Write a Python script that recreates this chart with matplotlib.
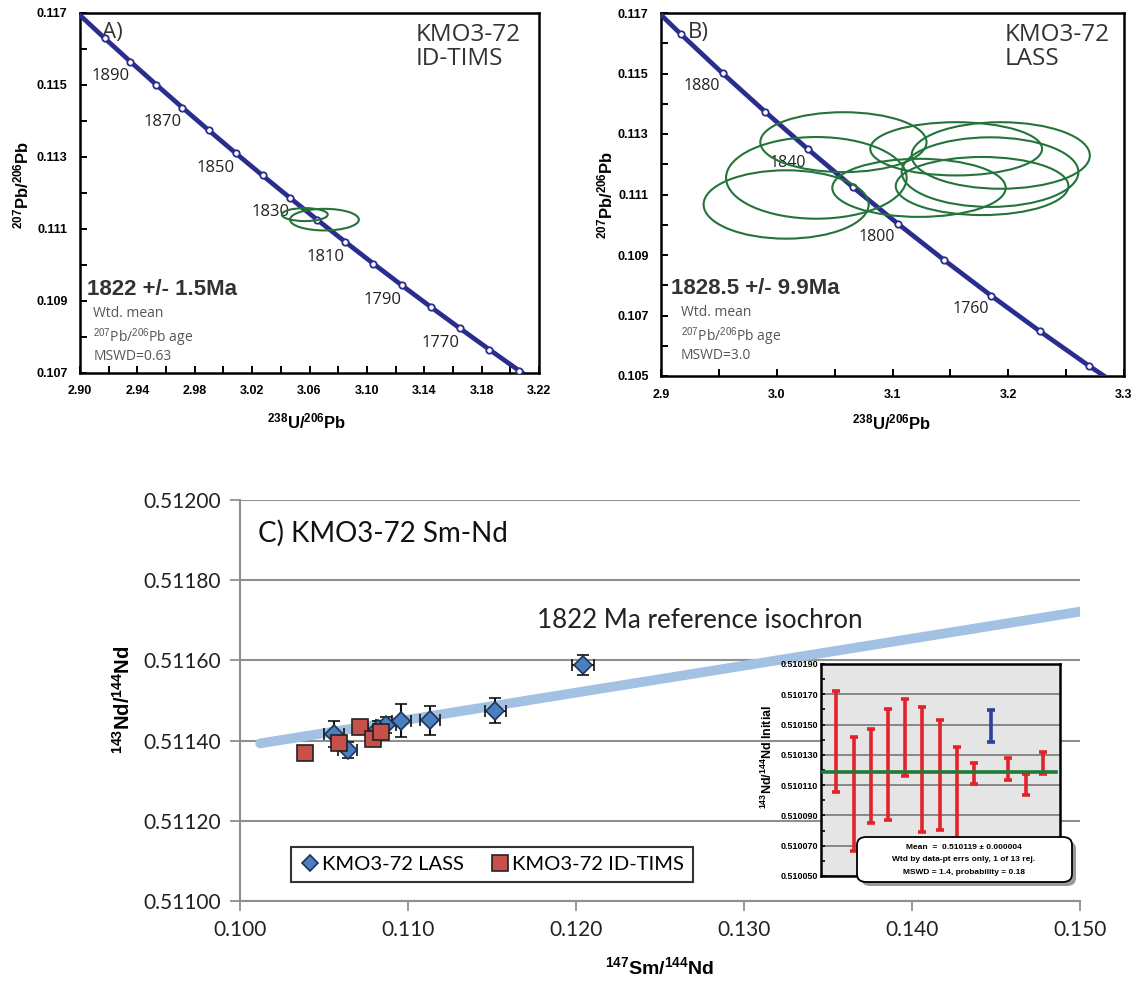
import numpy as np
import matplotlib
matplotlib.use("Agg")
import matplotlib.pyplot as plt
from matplotlib.patches import Ellipse, FancyBboxPatch
from matplotlib.lines import Line2D
from matplotlib.ticker import MultipleLocator, FormatStrFormatter

plt.rcParams['font.family'] = ['Liberation Sans', 'DejaVu Sans']
plt.rcParams['mathtext.fontset'] = 'custom'
plt.rcParams['mathtext.rm'] = 'Liberation Sans'
plt.rcParams['mathtext.it'] = 'Liberation Sans:italic'
plt.rcParams['mathtext.bf'] = 'Liberation Sans:bold'

W, H = 1144, 983

# U-Pb decay constants for the Tera-Wasserburg concordia
LAMBDA_238 = 1.55125e-10
LAMBDA_235 = 9.8485e-10
U238_U235 = 137.88

# ---- panel A: ID-TIMS ----
marker_ages_a = [1900, 1890, 1880, 1870, 1860, 1850, 1840, 1830,
                 1820, 1810, 1800, 1790, 1780, 1770, 1760, 1750]
label_ages_a = [1890, 1870, 1850, 1830, 1810, 1790, 1770]
ell_a_x = [3.0567, 3.0704]
ell_a_y = [0.11140, 0.11126]
ell_a_w = [0.016, 0.024]        # semi-axes
ell_a_h = [0.00018, 0.00030]
xticks_a = [2.90, 2.94, 2.98, 3.02, 3.06, 3.10, 3.14, 3.18, 3.22]
yticks_a = [0.107, 0.109, 0.111, 0.113, 0.115, 0.117]

# ---- panel B: LASS ----
marker_ages_b = [1900, 1880, 1860, 1840, 1820, 1800, 1780, 1760, 1740, 1720]
label_ages_b = [1880, 1840, 1800, 1760]
ell_b_x = [3.0081, 3.0342, 3.0576, 3.1229, 3.1550, 3.1935, 3.1774, 3.1843]
ell_b_y = [0.11067, 0.11155, 0.11273, 0.11122, 0.11251, 0.11229, 0.11128, 0.11174]
ell_b_w = [0.0713, 0.0780, 0.0718, 0.0749, 0.0742, 0.0770, 0.0746, 0.0763]
ell_b_h = [0.00113, 0.00135, 0.00099, 0.00096, 0.00088, 0.00110, 0.00096, 0.00115]
xticks_b = [2.9, 3.0, 3.1, 3.2, 3.3]
yticks_b = [0.105, 0.107, 0.109, 0.111, 0.113, 0.115, 0.117]

# ---- panel C: Sm-Nd ----
lass_x = [0.1204, 0.1152, 0.1113, 0.1096, 0.1087, 0.1082, 0.1064, 0.1056]
lass_y = [0.511589, 0.511474, 0.511451, 0.511450, 0.511440, 0.511430, 0.511377, 0.511416]
lass_xerr = [0.00066, 0.00063, 0.00060, 0.00058, 0.00060, 0.00060, 0.00058, 0.00060]
lass_yerr = [0.000025, 0.000031, 0.000036, 0.000041, 0.000020, 0.000020, 0.000020, 0.000033]
tims_x = [0.10387, 0.10589, 0.10714, 0.10790, 0.10839]
tims_y = [0.511368, 0.511393, 0.511433, 0.511404, 0.511422]
isochron_x = [0.1012, 0.1502]
isochron_y = [0.511393, 0.511723]

# inset: initial 143Nd/144Nd with 2-sigma bars
init_lo = [0.5101056, 0.5100667, 0.5100851, 0.5100871, 0.5101160, 0.5100793, 0.5100802,
           0.5100640, 0.5101107, 0.5101384, 0.5101131, 0.5101033, 0.5101171]
init_hi = [0.5101722, 0.5101416, 0.5101473, 0.5101600, 0.5101671, 0.5101618, 0.5101531,
           0.5101349, 0.5101249, 0.5101596, 0.5101278, 0.5101171, 0.5101318]
init_rejected = [False] * 9 + [True] + [False] * 3
init_mean = 0.510119
init_ticks = [0.510050, 0.510070, 0.510090, 0.510110, 0.510130, 0.510150, 0.510170, 0.510190]


def concordia(ages_ma):
    t = np.asarray(ages_ma, dtype=float) * 1e6
    e8 = np.exp(LAMBDA_238 * t) - 1.0
    e5 = np.exp(LAMBDA_235 * t) - 1.0
    return 1.0 / e8, e5 / e8 / U238_U235


def px_axes(left, top, right, bottom):
    return [left / W, 1 - bottom / H, (right - left) / W, (bottom - top) / H]


fig = plt.figure(figsize=(W / 100, H / 100), dpi=100)

NAVY = '#2b2d8e'
GREEN = '#23733a'
SANS = ['Open Sans', 'DejaVu Sans']


def upb_panel(rect, marker_ages, label_ages, ex, ey, ew, eh, xlim, ylim,
              xticks, yticks, xminor, xfmt, lab_off, lab_size):
    ax = fig.add_axes(rect)
    line_ages = [marker_ages[0] + 20] + marker_ages + [marker_ages[-1] - 40]
    cx, cy = concordia(line_ages)
    ax.plot(cx, cy, color=NAVY, lw=3.4, zorder=3, solid_capstyle='butt')
    mx, my = concordia(marker_ages)
    ax.plot(mx, my, 'o', ms=4.6, mfc='white', mec=NAVY, mew=1.3, zorder=4)
    lx, ly = concordia(label_ages)
    for a, x, y in zip(label_ages, lx, ly):
        ax.annotate(str(a), (x, y), xytext=lab_off, textcoords='offset points',
                    ha='center', va='center', fontsize=lab_size, family=SANS,
                    color='#222222', zorder=2)
    for x, y, w, h in zip(ex, ey, ew, eh):
        ax.add_patch(Ellipse((x, y), 2 * w, 2 * h, fill=False, ec=GREEN,
                             lw=1.5, zorder=5))
    ax.set_xlim(*xlim)
    ax.set_ylim(*ylim)
    ax.set_xticks(xticks)
    ax.set_yticks(yticks)
    ax.xaxis.set_minor_locator(MultipleLocator(xminor))
    ax.yaxis.set_minor_locator(MultipleLocator(0.001))
    ax.xaxis.set_major_formatter(FormatStrFormatter(xfmt))
    ax.yaxis.set_major_formatter(FormatStrFormatter('%.3f'))
    ax.tick_params(which='both', direction='in', width=1.4, top=False, right=False)
    ax.tick_params(which='major', length=5, labelsize=9, pad=9)
    ax.tick_params(which='minor', length=5)
    plt.setp(ax.get_xticklabels() + ax.get_yticklabels(), fontweight='bold')
    for s in ax.spines.values():
        s.set_linewidth(1.8)
    return ax


axA = upb_panel(px_axes(80, 13, 539, 373), marker_ages_a, label_ages_a,
                ell_a_x, ell_a_y, ell_a_w, ell_a_h, (2.90, 3.22), (0.107, 0.117),
                xticks_a, yticks_a, 0.02, '%.2f', (-14, -10.6), 12)
axB = upb_panel(px_axes(661, 13, 1124, 376), marker_ages_b, label_ages_b,
                ell_b_x, ell_b_y, ell_b_w, ell_b_h, (2.9, 3.3), (0.105, 0.117),
                xticks_b, yticks_b, 0.05, '%.1f', (-15, -9.4), 11.5)


def upb_text(ax, tag, tag_x, name, name_x, result, result_x, y0, mswd, small_x):
    ax.text(tag_x, 0.975, tag, transform=ax.transAxes, ha='left', va='top',
            fontsize=16, family=SANS, color='#333333')
    ax.text(name_x, 0.972, name, transform=ax.transAxes, ha='left', va='top',
            fontsize=17.5, family=SANS, color='#333333', linespacing=0.98)
    ax.text(result_x, y0, result, transform=ax.transAxes, ha='left', va='center',
            fontsize=16, fontweight='bold', color='#333333')
    ax.text(small_x, y0 - 0.066, 'Wtd. mean', transform=ax.transAxes,
            ha='left', va='center', fontsize=10, family=SANS, color='#555555')
    ax.text(small_x, y0 - 0.135, r'$^{207}$Pb/$^{206}$Pb age', transform=ax.transAxes,
            ha='left', va='center', fontsize=10, family=SANS, color='#555555')
    ax.text(small_x, y0 - 0.185, mswd, transform=ax.transAxes,
            ha='left', va='center', fontsize=10, family=SANS, color='#555555')


upb_text(axA, 'A)', 0.047, 'KMO3-72\nID-TIMS', 0.731, '1822 +/- 1.5Ma', 0.0155,
         0.232, 'MSWD=0.63', 0.029)
upb_text(axB, 'B)', 0.059, 'KMO3-72\nLASS', 0.742, '1828.5 +/- 9.9Ma', 0.0225,
         0.242, 'MSWD=3.0', 0.0425)

pb_label = r'$^{\mathbf{207}}$Pb/$^{\mathbf{206}}$Pb'
u_label = r'$^{\mathbf{238}}$U/$^{\mathbf{206}}$Pb'
fig.text(21 / W, 1 - 185 / H, pb_label, rotation=90, ha='center', va='center',
         fontsize=12, fontweight='bold')
fig.text(605 / W, 1 - 195 / H, pb_label, rotation=90, ha='center', va='center',
         fontsize=12, fontweight='bold')
fig.text(307 / W, 1 - 421 / H, u_label, ha='center', va='center',
         fontsize=12, fontweight='bold')
fig.text(892 / W, 1 - 422 / H, u_label, ha='center', va='center',
         fontsize=12, fontweight='bold')

# ---- panel C ----
CAL = ['Lato', 'DejaVu Sans']
GRID = '#8f8f8f'
axC = fig.add_axes(px_axes(240, 500, 1080, 901))
axC.set_xlim(0.100, 0.150)
axC.set_ylim(0.51100, 0.51200)
axC.yaxis.set_major_locator(MultipleLocator(0.0002))
axC.xaxis.set_major_locator(MultipleLocator(0.010))
axC.yaxis.set_major_formatter(FormatStrFormatter('%.5f'))
axC.xaxis.set_major_formatter(FormatStrFormatter('%.3f'))
axC.grid(axis='y', color=GRID, lw=1.5, zorder=0)
axC.set_axisbelow(True)
for s in ('top', 'right'):
    axC.spines[s].set_visible(False)
for s in ('left', 'bottom'):
    axC.spines[s].set_color(GRID)
    axC.spines[s].set_linewidth(1.5)
axC.tick_params(direction='out', length=7, width=1.3, color=GRID,
                labelsize=15, labelcolor='#222222', pad=7)
plt.setp(axC.get_xticklabels() + axC.get_yticklabels(), family=CAL)

axC.plot(isochron_x, isochron_y, color='#a3c1e2', lw=7, solid_capstyle='round', zorder=2)
axC.errorbar(lass_x, lass_y, xerr=lass_xerr, yerr=lass_yerr, fmt='D', ms=9.5,
             mfc='#4a7fc0', mec='#1d3557', mew=1.2, ecolor='#111111', elinewidth=1.5,
             capsize=4, capthick=1.5, zorder=3)
axC.plot(tims_x, tims_y, 's', ms=12, mfc='#c8504b', mec='#222222', mew=1.2, zorder=4)

axC.text(0.022, 0.917, 'C) KMO3-72 Sm-Nd', transform=axC.transAxes, ha='left',
         va='center', fontsize=20, family=CAL, color='#111111')
axC.text(0.3536, 0.70, '1822 Ma reference isochron', transform=axC.transAxes,
         ha='left', va='center', fontsize=18.7, family=CAL, color='#222222')

fig.text(123 / W, 1 - 700 / H, r'$^{\mathbf{143}}$Nd/$^{\mathbf{144}}$Nd', rotation=90,
         ha='center', va='center', fontsize=14.5, fontweight='bold')
fig.text(660 / W, 1 - 967 / H, r'$^{\mathbf{147}}$Sm/$^{\mathbf{144}}$Nd',
         ha='center', va='center', fontsize=14, fontweight='bold')

handles = [Line2D([], [], ls='none', marker='D', ms=8, mfc='#4a7fc0', mec='#1d3557', mew=1.2),
           Line2D([], [], ls='none', marker='s', ms=11, mfc='#c8504b', mec='#222222', mew=1.2)]
leg = fig.legend(handles, ['KMO3-72 LASS', 'KMO3-72 ID-TIMS'], ncol=2,
                 loc='center', bbox_to_anchor=(492 / W, 1 - 864.5 / H),
                 prop={'family': CAL, 'size': 14.5}, frameon=True, fancybox=False,
                 edgecolor='black', handletextpad=0.1, columnspacing=1.3,
                 handlelength=1.0, borderpad=0.45)
leg.get_frame().set_linewidth(1.5)

# inset: initial ratio weighted mean
axI = fig.add_axes(px_axes(821, 664, 1060, 876))
axI.set_facecolor('#e5e5e5')
axI.set_xlim(0.11, 14.0)
axI.set_ylim(0.510050, 0.510190)
axI.set_yticks(init_ticks)
axI.yaxis.set_minor_locator(MultipleLocator(0.00001))
axI.yaxis.set_major_formatter(FormatStrFormatter('%.6f'))
axI.set_xticks([])
axI.grid(axis='y', color='#6e6e6e', lw=1.1)
axI.set_axisbelow(True)
axI.tick_params(axis='y', which='both', direction='in', length=3, width=1.2,
                labelsize=6.5, pad=2)
plt.setp(axI.get_yticklabels(), fontweight='bold')
for s in axI.spines.values():
    s.set_linewidth(1.8)
pos = np.arange(1, len(init_lo) + 1)
for p, lo, hi, rej in zip(pos, init_lo, init_hi, init_rejected):
    c = '#2e3f9e' if rej else '#e3232b'
    axI.errorbar([p], [(lo + hi) / 2], yerr=[(hi - lo) / 2], fmt='none', ecolor=c,
                 elinewidth=2.6, capsize=3.2, capthick=2.6, zorder=3)
axI.axhline(init_mean, xmin=0.01, xmax=0.985, color='#1e7a35', lw=2.6, zorder=4)
fig.text(767 / W, 1 - 757 / H, r'$^{\mathbf{143}}$Nd/$^{\mathbf{144}}$Nd Initial',
         rotation=90, ha='center', va='center', fontsize=9, fontweight='bold')

bx0, by0, bx1, by1 = 857 / W, 1 - 882 / H, 1072 / W, 1 - 837 / H
fig.add_artist(FancyBboxPatch((bx0 + 4 / W, by0 - 4 / H), bx1 - bx0, by1 - by0,
                              boxstyle='round,pad=0,rounding_size=0.008',
                              transform=fig.transFigure, fc='#9a9a9a', ec='none', zorder=5))
fig.add_artist(FancyBboxPatch((bx0, by0), bx1 - bx0, by1 - by0,
                              boxstyle='round,pad=0,rounding_size=0.008',
                              transform=fig.transFigure, fc='white', ec='black', lw=1.3,
                              zorder=6))
box_lines = ['Mean  =  0.510119 \u00b1 0.000004',
             'Wtd by data-pt errs only, 1 of 13 rej.',
             'MSWD = 1.4, probability = 0.18']
for i, t in enumerate(box_lines):
    fig.text(964 / W, 1 - (847.5 + 12.3 * i) / H, t, ha='center', va='center',
             fontsize=6, fontweight='bold', zorder=7)

fig.savefig('out.png', dpi=100)
